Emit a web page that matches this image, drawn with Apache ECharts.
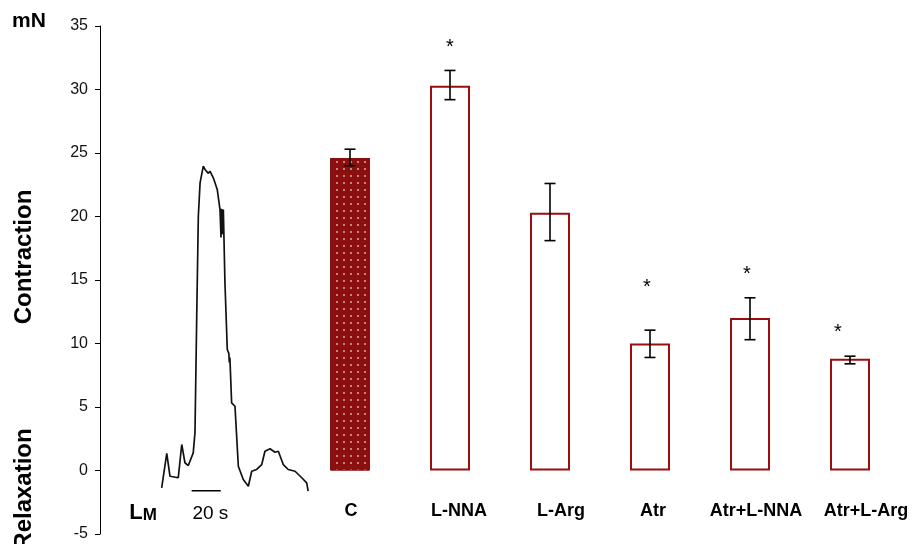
<!DOCTYPE html>
<html>
<head>
<meta charset="utf-8">
<script src="https://cdn.jsdelivr.net/npm/echarts@6/dist/echarts.min.js"></script>
<style>
  html, body { margin: 0; padding: 0; background: #fff; }
  #chart { width: 914px; height: 544px; }
</style>
</head>
<body>
<div id="chart"></div>
<script>
// ---------------- data ----------------
const categories = ['LM', '', 'C', 'L-NNA', 'L-Arg', 'Atr', 'Atr+L-NNA', 'Atr+L-Arg'];
const meanForce  = ['-', '-', 24.6, 30.3, 20.3, 10.0, 12.0, 8.8];
const errLow     = [null, null, 24.0, 29.2, 18.1, 8.9, 10.3, 8.4];
const errHigh    = [null, null, 25.3, 31.5, 22.6, 11.05, 13.6, 9.0];
const starForce  = [null, null, null, 33.7, null, 14.8, 15.8, 11.3];
const controlCategory = 'C';

// example recording (time in s, force in mN)
const traceTime  = [42.4, 45.9, 48.1, 53.8, 56.2, 58.4, 60.7, 64.1, 65.3, 66.5, 67.6, 68.8, 71.0, 72.2, 73.4, 74.5, 75.6, 77.9, 80.6, 82.5, 83.2, 83.6, 84.0, 84.8, 85.9, 87.5, 88.6, 88.9, 89.3, 90.5, 92.8, 95.1, 98.5, 102.0, 104.3, 107.7, 111.2, 113.4, 116.9, 120.3, 122.6, 126.0, 129.4, 134.1, 138.7, 142.1, 143.1];
const traceForce = [-1.36, 1.34, -0.45, -0.57, 2.05, 0.61, 0.39, 1.39, 2.99, 12.15, 20.02, 22.65, 23.96, 23.7, 23.83, 23.4, 23.57, 23.05, 22.13, 20.55, 18.35, 20.6, 18.6, 20.55, 14.80, 9.53, 9.2, 8.50, 8.9, 5.33, 5.06, 0.34, -0.71, -1.24, -0.06, 0.08, 0.47, 1.52, 1.71, 1.44, 1.52, 0.47, 0.08, -0.06, -0.57, -0.97, -1.63];
const scaleBarStart = 63;     // s
const scaleBarLength = 20;    // s
const scaleBarForce = -1.6;   // mN
const scaleBarText = '20 s';
const scaleTextPos = [75.9, -3.4];

const yMin = -5, yMax = 35, yStep = 5;
const timeMax = 550;

// ---------------- styling ----------------
const FONT = "'Liberation Sans', Arial, Helvetica, sans-serif";
const RED = '#9c0e0e';
const labelNudge = [-7, 0, 1, 9, 11, 3, 6, 16];
const starNudge = [0, 0, 0, 0, 0, -3, -3, -12];

const rich = {};
categories.forEach((c, i) => {
  const s = labelNudge[i];
  rich['c' + i] = {
    fontFamily: FONT, fontSize: 18, fontWeight: 'bold', color: '#000',
    padding: s >= 0 ? [0, 0, 0, 2 * s] : [0, -2 * s, 0, 0]
  };
});
rich.L = { fontFamily: FONT, fontSize: 22, fontWeight: 'bold', color: '#000', verticalAlign: 'bottom' };
rich.M = { fontFamily: FONT, fontSize: 17, fontWeight: 'bold', color: '#000', verticalAlign: 'bottom', padding: [0, 14, 0, 0] };

const barData = meanForce.map((v, i) => categories[i] === controlCategory ? {
  value: v,
  itemStyle: {
    color: '#8a0f0f', borderColor: '#8a0f0f', borderWidth: 1,
    decal: { symbol: 'circle', symbolSize: 1, color: 'rgba(255,220,220,0.75)', dashArrayX: [1.6, 5], dashArrayY: [1.6, 5], rotation: 0 }
  }
} : v);

const errData = [];
errLow.forEach((lo, i) => { if (lo != null) errData.push([i, lo, errHigh[i]]); });

const starData = [];
starForce.forEach((v, i) => {
  if (v != null) starData.push({ value: [i, v], label: { offset: [starNudge[i], 5] } });
});

const traceData = traceTime.map((t, i) => [t, traceForce[i]]);

const chart = echarts.init(document.getElementById('chart'), null, { renderer: 'canvas' });
chart.setOption({
  animation: false,
  backgroundColor: '#fff',
  grid: { left: 100, right: 14, top: 26, bottom: 10, containLabel: false },
  xAxis: [{
    type: 'category',
    data: categories,
    position: 'bottom',
    axisLine: { show: false, onZero: false },
    axisTick: { show: false },
    splitLine: { show: false },
    axisLabel: {
      interval: 0, margin: -32, hideOverlap: false,
      formatter: (val, idx) => val === 'LM' ? '{L|L}{M|M}' : '{c' + idx + '|' + val + '}',
      rich: rich
    }
  }, {
    type: 'value', min: 0, max: timeMax, show: false, position: 'top'
  }],
  yAxis: {
    type: 'value', min: yMin, max: yMax, interval: yStep,
    axisLine: { show: true, lineStyle: { color: '#000', width: 1 } },
    axisTick: { show: true, length: 5, lineStyle: { color: '#000', width: 1 } },
    splitLine: { show: false },
    axisLabel: { margin: 12, fontFamily: FONT, fontSize: 16, color: '#111' }
  },
  series: [{
    type: 'bar',
    data: barData,
    barWidth: 40,
    itemStyle: { color: '#fff', borderColor: RED, borderWidth: 2 },
    z: 2
  }, {
    type: 'custom',
    data: errData,
    z: 5,
    renderItem: (params, api) => {
      const x = api.value(0);
      const p1 = api.coord([x, api.value(1)]);
      const p2 = api.coord([x, api.value(2)]);
      const w = 5.5;
      const style = { stroke: '#000', lineWidth: 1.6 };
      return {
        type: 'group',
        children: [
          { type: 'line', shape: { x1: p1[0], y1: p1[1], x2: p2[0], y2: p2[1] }, style },
          { type: 'line', shape: { x1: p1[0] - w, y1: p1[1], x2: p1[0] + w, y2: p1[1] }, style },
          { type: 'line', shape: { x1: p2[0] - w, y1: p2[1], x2: p2[0] + w, y2: p2[1] }, style }
        ]
      };
    }
  }, {
    type: 'scatter',
    data: starData,
    symbol: 'circle', symbolSize: 1,
    itemStyle: { color: 'rgba(0,0,0,0)', opacity: 1 },
    label: { show: true, position: 'inside', formatter: '*', fontFamily: FONT, fontSize: 20, color: '#000', opacity: 1 },
    z: 6
  }, {
    type: 'line',
    xAxisIndex: 1,
    data: traceData,
    showSymbol: false, symbol: 'none',
    lineStyle: { color: '#111', width: 1.7 },
    z: 4
  }, {
    type: 'line',
    xAxisIndex: 1,
    data: [[scaleBarStart, scaleBarForce], [scaleBarStart + scaleBarLength, scaleBarForce]],
    showSymbol: false, symbol: 'none',
    lineStyle: { color: '#000', width: 1.6 },
    z: 4
  }, {
    type: 'scatter',
    xAxisIndex: 1,
    data: [scaleTextPos],
    symbol: 'circle', symbolSize: 1,
    itemStyle: { color: 'rgba(0,0,0,0)', opacity: 1 },
    label: { show: true, position: 'inside', formatter: scaleBarText, fontFamily: FONT, fontSize: 19, color: '#000', opacity: 1 }
  }],
  graphic: [{
    type: 'text', left: 12, top: 11,
    style: { text: 'mN', font: 'bold 21px ' + FONT, fill: '#000' }
  }, {
    type: 'text', x: 24, y: 257, rotation: Math.PI / 2,
    style: { text: 'Contraction', font: 'bold 24px ' + FONT, fill: '#000', align: 'center', verticalAlign: 'middle' }
  }, {
    type: 'text', x: 24, y: 489, rotation: Math.PI / 2,
    style: { text: 'Relaxation', font: 'bold 24px ' + FONT, fill: '#000', align: 'center', verticalAlign: 'middle' }
  }]
});
</script>
</body>
</html>
